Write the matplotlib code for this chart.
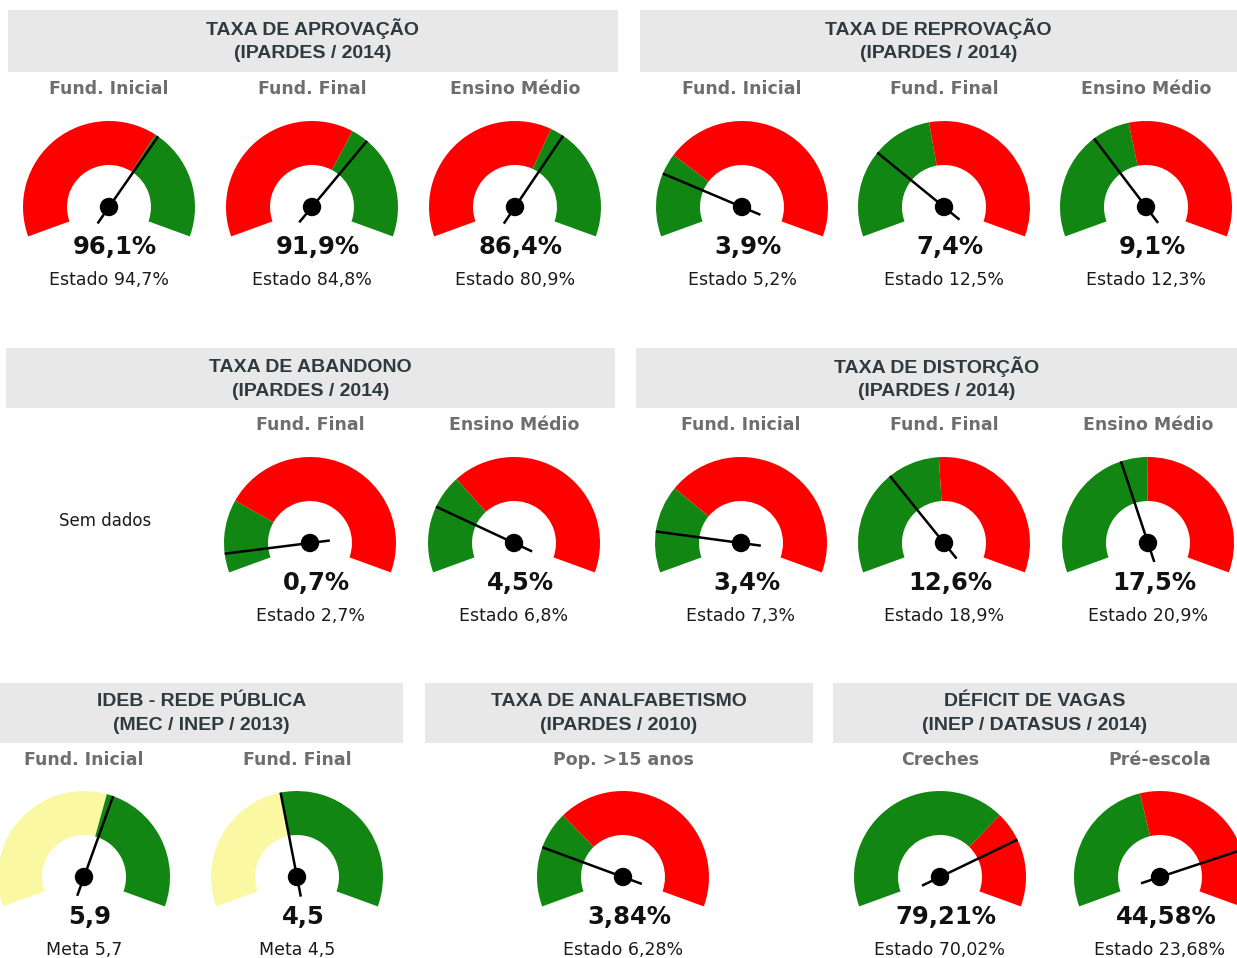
import matplotlib
matplotlib.use("Agg")
import matplotlib.pyplot as plt
from matplotlib.patches import Wedge, Circle, Rectangle
import numpy as np

W, H = 1237, 958

# ---- dados ----
aprov_labels = ['Fund. Inicial', 'Fund. Final', 'Ensino Médio']
aprov_valores = [96.1, 91.9, 86.4]
aprov_estado = [94.7, 84.8, 80.9]
aprov_max = [146, 135, 132]

reprov_labels = ['Fund. Inicial', 'Fund. Final', 'Ensino Médio']
reprov_valores = [3.9, 7.4, 9.1]
reprov_estado = [5.2, 12.5, 12.3]
reprov_max = [20, 27.5, 27.5]

aband_labels = ['Fund. Final', 'Ensino Médio']
aband_valores = [0.7, 4.5]
aband_estado = [2.7, 6.8]
aband_max = [12, 22]

dist_labels = ['Fund. Inicial', 'Fund. Final', 'Ensino Médio']
dist_valores = [3.4, 12.6, 17.5]
dist_estado = [7.3, 18.9, 20.9]
dist_max = [27, 39, 42]

ideb_labels = ['Fund. Inicial', 'Fund. Final']
ideb_valores = [5.9, 4.5]
ideb_meta = [5.7, 4.5]
ideb_max = [10, 10]

analf_labels = ['Pop. >15 anos']
analf_valores = [3.84]
analf_estado = [6.28]
analf_max = [21]

deficit_labels = ['Creches', 'Pré-escola']
deficit_valores = [79.21, 44.58]
deficit_estado = [70.02, 23.68]
deficit_max = [100, 54]

RED = '#ff0000'
GREEN = '#128612'
YELLOW = '#fbf8a4'
BAND = '#e8e8e8'

# painel: titulo, fonte, faixa (x0, y0, x1, y1), centros x, y do centro,
# dados, cores (inicio, fim), casas decimais, sufixo, prefixo da referencia
paineis = [
    ('TAXA DE APROVAÇÃO', '(IPARDES / 2014)', (8, 10, 618, 72), [109, 312, 515], 207,
     aprov_labels, aprov_valores, aprov_estado, aprov_max, (RED, GREEN), 1, '%', 'Estado'),
    ('TAXA DE REPROVAÇÃO', '(IPARDES / 2014)', (640, 10, 1237, 72), [742, 944, 1146], 207,
     reprov_labels, reprov_valores, reprov_estado, reprov_max, (GREEN, RED), 1, '%', 'Estado'),
    ('TAXA DE ABANDONO', '(IPARDES / 2014)', (6, 348, 615, 408), [310, 514], 543,
     aband_labels, aband_valores, aband_estado, aband_max, (GREEN, RED), 1, '%', 'Estado'),
    ('TAXA DE DISTORÇÃO', '(IPARDES / 2014)', (636, 348, 1237, 408), [741, 944, 1148], 543,
     dist_labels, dist_valores, dist_estado, dist_max, (GREEN, RED), 1, '%', 'Estado'),
    ('IDEB - REDE PÚBLICA', '(MEC / INEP / 2013)', (0, 683, 403, 743), [84, 297], 877,
     ideb_labels, ideb_valores, ideb_meta, ideb_max, (YELLOW, GREEN), 1, '', 'Meta'),
    ('TAXA DE ANALFABETISMO', '(IPARDES / 2010)', (425, 683, 813, 743), [623], 877,
     analf_labels, analf_valores, analf_estado, analf_max, (GREEN, RED), 2, '%', 'Estado'),
    ('DÉFICIT DE VAGAS', '(INEP / DATASUS / 2014)', (833, 683, 1237, 743), [940, 1160], 877,
     deficit_labels, deficit_valores, deficit_estado, deficit_max, (GREEN, RED), 2, '%', 'Estado'),
]

R_OUT, R_IN = 86, 42
A0, A1 = 200, -20  # angulos do arco (graus)


def ang(v, vmax):
    return A0 - (A0 - A1) * v / vmax


def fmt(v, dec, suf):
    return f"{v:.{dec}f}".replace('.', ',') + suf


fig = plt.figure(figsize=(W / 100, H / 100), dpi=100)
ax = fig.add_axes([0, 0, 1, 1])
ax.set_xlim(0, W)
ax.set_ylim(0, H)
ax.set_aspect('equal')
ax.axis('off')

for (t1, t2, band, xs, yc, labels, vals, refs, vmaxs, cores, dec, suf, pref) in paineis:
    x0, y0, x1, y1 = band
    ax.add_patch(Rectangle((x0, H - y1), x1 - x0, y1 - y0, color=BAND, lw=0))
    xm = (x0 + x1) / 2
    ax.text(xm, H - (y0 + 19), t1, ha='center', va='center', fontsize=14,
            family='Liberation Sans', weight='bold', color='#2e3a40')
    ax.text(xm, H - (y0 + 43), t2, ha='center', va='center', fontsize=14,
            family='Liberation Sans', weight='bold', color='#2e3a40')
    ysub = y1 + 17
    for x, lab, v, r, vmax in zip(xs, labels, vals, refs, vmaxs):
        c = (x, H - yc)
        ar = ang(r, vmax)
        ax.add_patch(Wedge(c, R_OUT, ar, A0, width=R_OUT - R_IN, color=cores[0], lw=0))
        ax.add_patch(Wedge(c, R_OUT, A1, ar, width=R_OUT - R_IN, color=cores[1], lw=0))
        a = np.deg2rad(ang(v, vmax))
        ax.plot([c[0] - 20 * np.cos(a), c[0] + R_OUT * np.cos(a)],
                [c[1] - 20 * np.sin(a), c[1] + R_OUT * np.sin(a)],
                color='black', lw=1.8, solid_capstyle='butt', zorder=3)
        ax.add_patch(Circle(c, 8.5, color='black', zorder=4))
        ax.text(x, H - ysub, lab, ha='center', va='center', fontsize=12.5,
                weight='bold', color='#6e6e6e')
        ax.text(x + 6, H - (yc + 40), fmt(v, dec, suf), ha='center', va='center',
                fontsize=17.5, weight='bold', color='#111111')
        ax.text(x, H - (yc + 73), f"{pref} {fmt(r, dec, suf)}", ha='center',
                va='center', fontsize=12.5, color='#1a1a1a')

ax.text(105, H - 521, 'Sem dados', ha='center', va='center', fontsize=12, color='#1a1a1a')

fig.savefig('out.png', dpi=100, facecolor='white')
